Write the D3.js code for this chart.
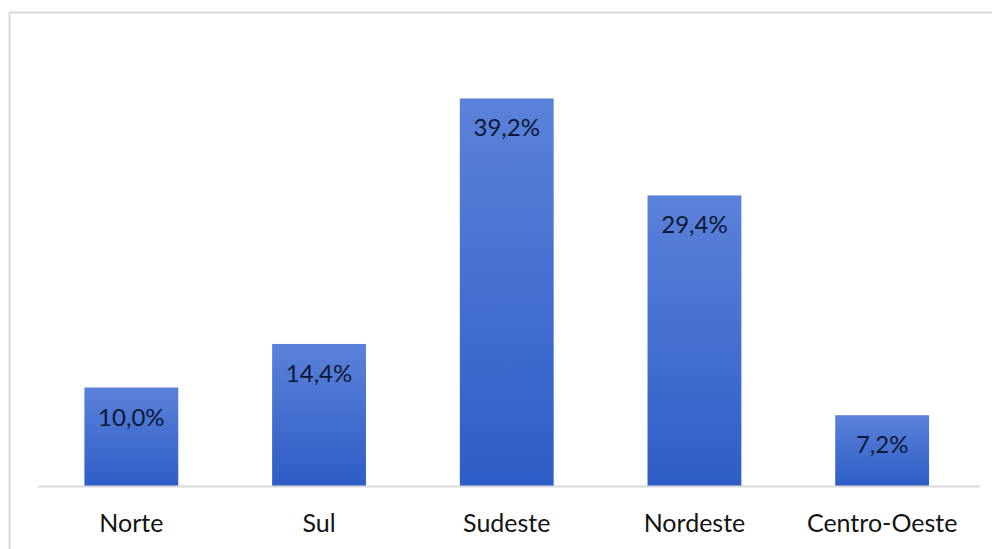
<!DOCTYPE html>
<html>
<head>
<meta charset="utf-8">
<script src="https://cdn.jsdelivr.net/npm/d3@7"></script>
<style>
  html, body { margin: 0; padding: 0; background: #ffffff; }
  svg { display: block; }
</style>
</head>
<body>
<svg id="chart" width="992" height="549"></svg>
<script>
// Distribuição por região (%)
const regions = ["Norte", "Sul", "Sudeste", "Nordeste", "Centro-Oeste"];
const shares = [10.0, 14.4, 39.2, 29.4, 7.2];
const shareLabels = ["10,0%", "14,4%", "39,2%", "29,4%", "7,2%"];

const svg = d3.select("#chart");
const W = 992, H = 549;

// Chart frame
svg.append("rect")
  .attr("x", 9.5).attr("y", 12.5)
  .attr("width", W + 20).attr("height", H + 20)
  .attr("fill", "#ffffff")
  .attr("stroke", "#d9d9d9")
  .attr("stroke-width", 2);

const baseY = 486.5;
const x = d3.scaleBand()
  .domain(regions)
  .range([37.5, 976])
  .paddingInner(0.5)
  .paddingOuter(0.25);

const y = d3.scaleLinear()
  .domain([0, 40])
  .range([baseY, baseY - 396]);

// Vertical gradient for bars
const defs = svg.append("defs");
const grad = defs.append("linearGradient")
  .attr("id", "barGrad")
  .attr("x1", 0).attr("y1", 0).attr("x2", 0).attr("y2", 1);
grad.append("stop").attr("offset", "0%").attr("stop-color", "#5b82da");
grad.append("stop").attr("offset", "100%").attr("stop-color", "#2d5dc6");

const data = regions.map((r, i) => ({ region: r, value: shares[i], label: shareLabels[i] }));

svg.append("g")
  .selectAll("rect")
  .data(data)
  .join("rect")
  .attr("x", d => x(d.region))
  .attr("y", d => y(d.value))
  .attr("width", x.bandwidth())
  .attr("height", d => y(0) - y(d.value))
  .attr("fill", "url(#barGrad)");

// Category axis
const axis = svg.append("g")
  .attr("transform", `translate(0,${baseY})`)
  .call(d3.axisBottom(x).tickSize(0).tickPadding(0).tickSizeOuter(0));
axis.select(".domain")
  .attr("d", "M38.5,0H980")
  .attr("stroke", "#d9d9d9")
  .attr("stroke-width", 2);
axis.selectAll(".tick text")
  .attr("y", 45)
  .attr("dy", null)
  .attr("fill", "#141414")
  .style("font-family", "Lato, 'Open Sans', sans-serif")
  .style("font-size", "25px");

// Value labels inside bar tops
svg.append("g")
  .selectAll("text")
  .data(data)
  .join("text")
  .attr("x", d => x(d.region) + x.bandwidth() / 2)
  .attr("y", d => y(d.value) + 38)
  .attr("text-anchor", "middle")
  .attr("fill", "#0b1736")
  .style("font-family", "Lato, 'Open Sans', sans-serif")
  .style("font-size", "24px")
  .text(d => d.label);
</script>
</body>
</html>
